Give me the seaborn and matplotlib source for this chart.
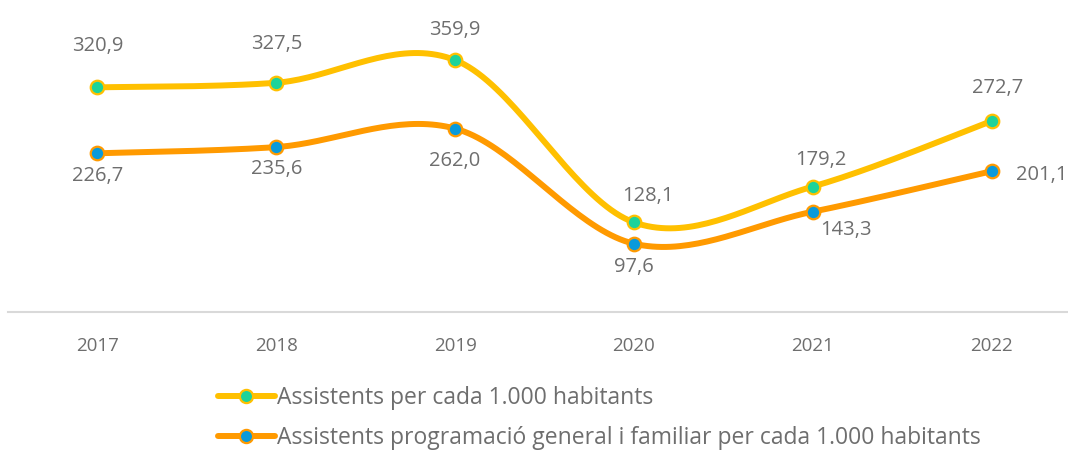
import numpy as np
import pandas as pd
import seaborn as sns
import matplotlib.pyplot as plt

years = ["2017", "2018", "2019", "2020", "2021", "2022"]
total_per_1000 = [320.9, 327.5, 359.9, 128.1, 179.2, 272.7]
general_per_1000 = [226.7, 235.6, 262.0, 97.6, 143.3, 201.1]
series_names = [
    "Assistents per cada 1.000 habitants",
    "Assistents programació general i familiar per cada 1.000 habitants",
]

# label offsets in points (dx, dy) for each data label
total_offsets = [(0, 30), (0, 28), (0, 22), (10, 19), (6, 19), (4, 24)]
general_offsets = [(0, -16), (0, -16), (0, -23), (0, -17), (24, -13), (36, -3)]

line_colors = ["#FFC000", "#FF9A00"]
marker_colors = ["#1DD39A", "#0A9ADB"]
text_gray = "#6E6E6E"


def smooth(xs, ys, steps=40):
    # bezier smoothing through the points, like a spreadsheet "smoothed line"
    pts = np.column_stack([xs, ys]).astype(float)
    padded = np.vstack([pts[0], pts, pts[-1]])
    out = []
    for i in range(len(pts) - 1):
        p0, p3 = pts[i], pts[i + 1]
        p1 = p0 + (padded[i + 2] - padded[i]) / 6
        p2 = p3 - (padded[i + 3] - padded[i + 1]) / 6
        t = np.linspace(0, 1, steps)[:, None]
        seg = (1 - t) ** 3 * p0 + 3 * (1 - t) ** 2 * t * p1 + 3 * (1 - t) * t ** 2 * p2 + t ** 3 * p3
        out.append(seg if i == 0 else seg[1:])
    seg = np.vstack(out)
    return seg[:, 0], seg[:, 1]


sns.set_theme(style="white")
plt.rcParams["font.family"] = ["Open Sans", "DejaVu Sans"]

fig = plt.figure(figsize=(10.68, 4.53), dpi=100)
ax = fig.add_axes([8 / 1068, 141 / 453, 1073 / 1068, 294 / 453])

x = np.arange(len(years))
handles = []
for vals, name, lc, mc, offs in [
    (total_per_1000, series_names[0], line_colors[0], marker_colors[0], total_offsets),
    (general_per_1000, series_names[1], line_colors[1], marker_colors[1], general_offsets),
]:
    sx, sy = smooth(x, vals)
    curve = pd.DataFrame({"x": sx, "y": sy})
    sns.lineplot(data=curve, x="x", y="y", ax=ax, color=lc, linewidth=4.3,
                 sort=False, estimator=None, legend=False, solid_capstyle="round")
    pts = pd.DataFrame({"x": x, "y": vals})
    sns.scatterplot(data=pts, x="x", y="y", ax=ax, color=mc, edgecolor=lc,
                    linewidth=1.6, s=95, zorder=5, legend=False)
    for xi, v, (dx, dy) in zip(x, vals, offs):
        ax.annotate(f"{v:.1f}".replace(".", ","), (xi, v), xytext=(dx, dy),
                    textcoords="offset points", ha="center", va="center",
                    fontsize=14.5, color=text_gray)
    h, = ax.plot([], [], color=lc, linewidth=4.3, marker="o", markersize=9.5,
                 markerfacecolor=mc, markeredgecolor=lc, markeredgewidth=1.6)
    handles.append(h)

if ax.get_legend() is not None:
    ax.get_legend().remove()

ax.set_xlim(-0.5, len(years) - 0.5)
ax.set_ylim(0, 420)
ax.set_xticks(x)
ax.set_xticklabels(years)
ax.set_yticks([])
ax.set_xlabel("")
ax.set_ylabel("")
ax.tick_params(axis="x", length=0, pad=18, labelsize=13.5, labelcolor=text_gray)
for side in ["top", "right", "left"]:
    ax.spines[side].set_visible(False)
ax.spines["bottom"].set_color("#D9D9D9")
ax.spines["bottom"].set_linewidth(1.5)

fig.legend(handles, series_names, loc="upper left",
           bbox_to_anchor=(197 / 1068, 1 - 365 / 453), frameon=False,
           fontsize=16.5, labelcolor=text_gray, handlelength=2.5, handletextpad=0.1,
           labelspacing=0.72)

fig.savefig("out.png", dpi=100)
